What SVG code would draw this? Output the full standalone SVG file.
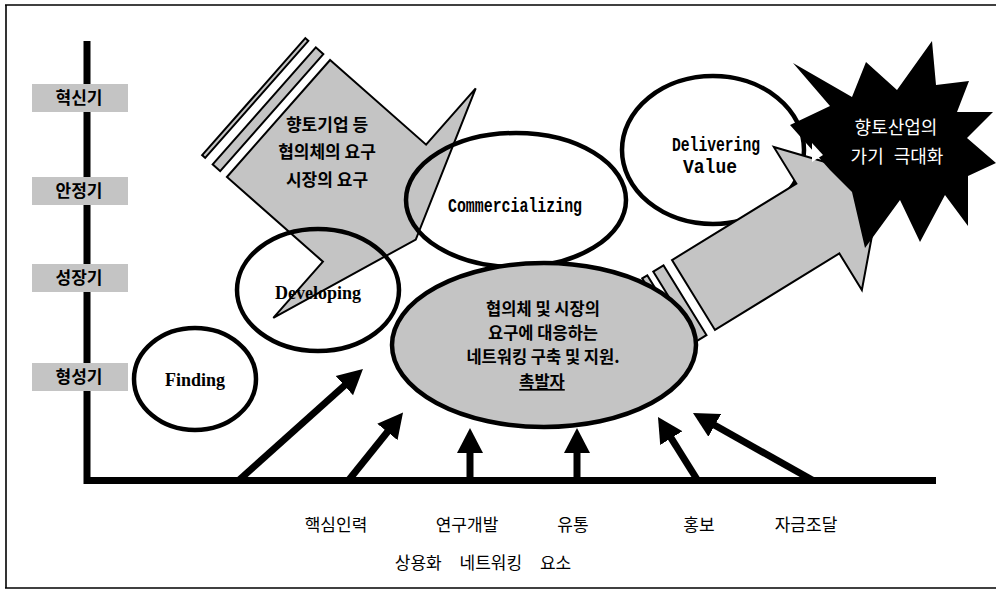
<svg xmlns="http://www.w3.org/2000/svg" width="996" height="589" viewBox="0 0 996 589">
<style>
.frame{fill:none;stroke:#000;stroke-width:1.6}
.axis{fill:none;stroke:#000;stroke-width:7}
.lbl{fill:#c4c4c4}
.gray{fill:#c4c4c4;stroke:#000;stroke-width:2;stroke-linejoin:miter}
.ell{fill:none;stroke:#000;stroke-width:4.5}
.ellw{fill:#fff;stroke:#000;stroke-width:4.5}
.ellg{fill:#c4c4c4;stroke:#000;stroke-width:4.5}
.ko{font-family:"Noto Sans CJK KR","Noto Sans CJK SC",sans-serif;text-anchor:middle}
.kob{font-family:"Noto Sans CJK KR","Noto Sans CJK SC",sans-serif;font-weight:700;text-anchor:middle;fill:#000}
.en{font-family:"Liberation Serif",serif;font-weight:700;font-size:18px;text-anchor:middle}
.mono{font-family:"Liberation Mono",monospace;font-weight:700;font-size:20px}
.conn line{stroke:#000;stroke-width:7;fill:none;marker-end:url(#ah)}
</style>
<defs>
<marker id="ah" markerUnits="userSpaceOnUse" markerWidth="26" markerHeight="27" viewBox="0 -13.5 26 27" refX="1" refY="0" orient="auto">
<path d="M0,-13 L25,0 L0,13 z" fill="#000"/>
</marker>
</defs>

<g id="frame">
<line class="frame" x1="5" y1="5" x2="996" y2="5"/>
<line class="frame" x1="6" y1="5" x2="6" y2="588"/>
<line class="frame" x1="5" y1="588" x2="996" y2="588"/>
</g>

<g id="axes">
<path class="axis" d="M87,41 L87,480.5 L936,480.5"/>
</g>

<g id="stage-labels">
<g id="stage-innovation"><rect class="lbl" x="32" y="84" width="96" height="28"/><text class="kob" x="79" y="104" font-size="17">혁신기</text></g>
<g id="stage-stable"><rect class="lbl" x="32" y="177" width="96" height="28"/><text class="kob" x="79" y="197" font-size="17">안정기</text></g>
<g id="stage-growth"><rect class="lbl" x="32" y="264" width="96" height="28"/><text class="kob" x="79" y="284" font-size="17">성장기</text></g>
<g id="stage-formation"><rect class="lbl" x="32" y="363" width="96" height="28"/><text class="kob" x="79" y="383" font-size="17">형성기</text></g>
</g>

<g id="demand-arrow">
<g transform="translate(278.5,118.5) rotate(41.4)">
<rect class="gray" x="-33" y="-78" width="4" height="156"/>
<rect class="gray" x="-19" y="-78" width="10" height="156"/>
<polygon class="gray" points="0,-78 128,-78 128,-153 183,0 128,153 128,78 0,78"/>
</g>
<text class="kob" font-size="17" x="327" y="131">향토기업 등</text>
<text class="kob" font-size="17" x="327" y="158">협의체의 요구</text>
<text class="kob" font-size="17" x="327" y="186">시장의 요구</text>
</g>

<g id="finding">
<ellipse class="ell" cx="195" cy="379" rx="61" ry="51"/>
<text class="en" x="195" y="386">Finding</text>
</g>

<g id="developing">
<ellipse class="ell" cx="318" cy="290" rx="81" ry="61"/>
<text class="en" x="318" y="299">Developing</text>
</g>

<g id="commercializing">
<ellipse class="ell" cx="516" cy="200" rx="110" ry="67"/>
<text class="mono" x="448" y="212" textLength="134" lengthAdjust="spacingAndGlyphs">Commercializing</text>
</g>

<g id="delivering">
<ellipse class="ellw" cx="713" cy="150" rx="91" ry="74"/>
<text class="mono" x="672" y="151" font-size="18" textLength="88" lengthAdjust="spacingAndGlyphs">Delivering</text>
<text class="mono" x="683" y="173" font-size="18" textLength="54" lengthAdjust="spacingAndGlyphs">Value</text>
</g>

<g id="value-arrow">
<g transform="translate(693.5,295) rotate(-31.6)">
<rect class="gray" x="-35" y="-41" width="6" height="82"/>
<rect class="gray" x="-22" y="-41" width="12" height="82"/>
<polygon class="gray" points="0,-41 146,-41 146,-84 222,0 146,84 146,41 0,41"/>
</g>
</g>

<g id="network-hub">
<ellipse class="ellg" cx="544" cy="345" rx="152" ry="82"/>
<text class="kob" font-size="16.5" x="543" y="315">협의체 및 시장의</text>
<text class="kob" font-size="16.5" x="543" y="339">요구에 대응하는</text>
<text class="kob" font-size="16.5" x="543" y="363">네트워킹 구축 및 지원.</text>
<text class="kob" font-size="16.5" x="542" y="388" text-decoration="underline">촉발자</text>
</g>

<g id="value-burst">
<polygon fill="#000" points="790,125 830,106 793,63 852,97 866,62 897,90 932,41 936,85 969,81 957,112 993,112 967,138 996,163 968,176 968,226 945,195 920,242 900,200 865,248 852,192 830,170"/>
<polygon fill="#fff" points="812,143 823,155 812,162"/>
<text class="ko" fill="#fff" font-size="18" x="896" y="134">향토산업의</text>
<text class="ko" fill="#fff" font-size="18" x="897" y="163" word-spacing="6">가기 극대화</text>
</g>

<g id="connectors" class="conn">
<line x1="238" y1="481" x2="345.1" y2="385"/>
<line x1="348" y1="481" x2="388" y2="431.2"/>
<line x1="470" y1="481" x2="470" y2="452"/>
<line x1="577" y1="481" x2="577" y2="452"/>
<line x1="698" y1="481" x2="670.7" y2="437.3"/>
<line x1="814" y1="481" x2="713.9" y2="424.8"/>
</g>

<g id="elements">
<text class="ko" font-size="17" x="336" y="531">핵심인력</text>
<text class="ko" font-size="17" x="467" y="531">연구개발</text>
<text class="ko" font-size="17" x="573" y="531">유통</text>
<text class="ko" font-size="17" x="699" y="531">홍보</text>
<text class="ko" font-size="17" x="806" y="531">자금조달</text>
<text class="ko" font-size="17" x="483" y="569" word-spacing="14">상용화 네트워킹 요소</text>
</g>
</svg>
